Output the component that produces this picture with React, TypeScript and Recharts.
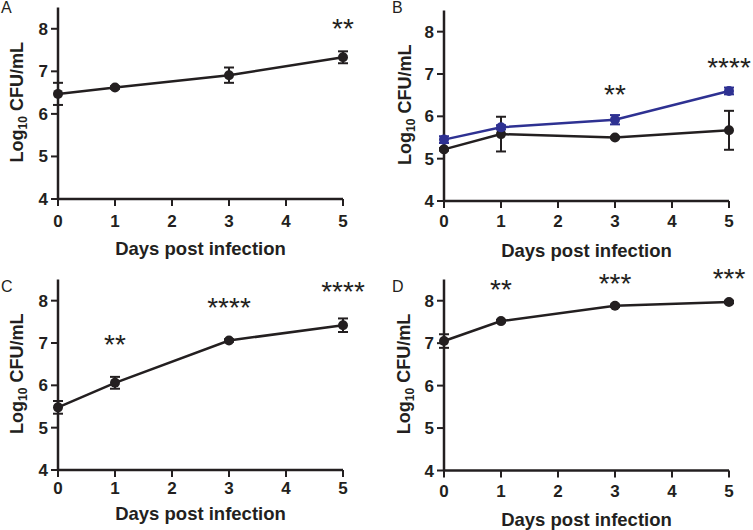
import React from "react";
import { LineChart, Line, XAxis, YAxis, ErrorBar, ReferenceDot } from "recharts";

const days = [0, 1, 3, 5];
const xTicks = [0, 1, 2, 3, 4, 5];
const yTicks = [4, 5, 6, 7, 8];

// panel A
const meanA = [6.47, 6.62, 6.91, 7.33];
const errA = [0.26, 0.03, 0.18, 0.14];
const starsA = [{ day: 5, at: 8.17, label: "**" }];

// panel B (black + blue)
const meanB1 = [5.22, 5.58, 5.5, 5.67];
const errB1 = [0.03, 0.41, 0.02, 0.46];
const meanB2 = [5.45, 5.74, 5.92, 6.6];
const errB2 = [0.08, 0.05, 0.11, 0.08];
const starsB = [
  { day: 3, at: 6.67, label: "**" },
  { day: 5, at: 7.31, label: "****" },
];

// panel C
const meanC = [5.48, 6.06, 7.06, 7.42];
const errC = [0.15, 0.14, 0.03, 0.16];
const starsC = [
  { day: 1, at: 7.13, label: "**" },
  { day: 3, at: 8.0, label: "****" },
  { day: 5, at: 8.37, label: "****" },
];

// panel D
const meanD = [7.05, 7.52, 7.88, 7.97];
const errD = [0.16, 0.03, 0.03, 0.03];
const starsD = [
  { day: 1, at: 8.42, label: "**" },
  { day: 3, at: 8.57, label: "***" },
  { day: 5, at: 8.68, label: "***" },
];

const INK = "#231f20";
const BLUE = "#2e3192";
const FONT = "'Liberation Sans', Arial, sans-serif";
const W = 376;
const H = 265;
const PAD = 20; // extra room above the plot so the stars are not clipped
const XAXIS_H = 40;
const STAR_FS = 28;

interface Series {
  mean: number[];
  err: number[];
  color: string;
}

interface PanelProps {
  letter: string;
  left: number;
  top: number;
  box: { left: number; top: number; right: number; bottom: number };
  series: Series[];
  stars: { day: number; at: number; label: string }[];
  tickGap: number;
  titleGap: number;
  yLabelX: number;
}

const Panel = (props: PanelProps) => {
  const { letter, left, top, box, series, stars, tickGap, titleGap, yLabelX } = props;
  const data = days.map((d, i) => {
    const row: any = { day: d };
    series.forEach((s, k) => {
      row["m" + k] = s.mean[i];
      row["e" + k] = s.err[i];
    });
    return row;
  });
  const tickStyle = { fill: INK, fontSize: 17, fontWeight: 700, fontFamily: FONT };
  return (
    <div style={{ position: "absolute", left, top: top - PAD, width: W, height: H + PAD }}>
      <LineChart
        width={W}
        height={H + PAD}
        data={data}
        margin={{
          top: box.top + PAD,
          right: W - box.right,
          left: 0,
          bottom: H - box.bottom - XAXIS_H,
        }}
      >
        <XAxis
          dataKey="day"
          type="number"
          domain={[0, 5]}
          ticks={xTicks}
          interval={0}
          height={XAXIS_H}
          tick={tickStyle}
          tickSize={7}
          tickMargin={tickGap}
          axisLine={{ stroke: INK, strokeWidth: 2.5 }}
          tickLine={{ stroke: INK, strokeWidth: 2 }}
          label={{
            content: (p: any) => {
              const vb = p.viewBox;
              return (
                <text
                  x={vb.x + vb.width / 2}
                  y={vb.y + titleGap}
                  textAnchor="middle"
                  fill={INK}
                  fontSize={18.5}
                  fontWeight={700}
                  fontFamily={FONT}
                >
                  Days post infection
                </text>
              );
            },
          }}
        />
        <YAxis
          type="number"
          domain={[4, 8.5]}
          ticks={yTicks}
          interval={0}
          width={box.left}
          tick={tickStyle}
          tickSize={7}
          tickMargin={3}
          axisLine={{ stroke: INK, strokeWidth: 2.5 }}
          tickLine={{ stroke: INK, strokeWidth: 2 }}
          label={{
            content: (p: any) => {
              const vb = p.viewBox;
              const cx = vb.x + yLabelX;
              const cy = vb.y + vb.height / 2 - 1;
              return (
                <text
                  x={cx}
                  y={cy}
                  transform={`rotate(-90, ${cx}, ${cy})`}
                  textAnchor="middle"
                  fill={INK}
                  fontSize={18}
                  fontWeight={700}
                  fontFamily={FONT}
                >
                  <tspan>Log</tspan>
                  <tspan fontSize={12} dy={4}>10</tspan>
                  <tspan dy={-4}> CFU/mL</tspan>
                </text>
              );
            },
          }}
        />
        {series.map((s, k) => (
          <Line
            key={k}
            dataKey={"m" + k}
            stroke={s.color}
            strokeWidth={2.5}
            dot={{ r: 5, fill: s.color, stroke: "none" }}
            activeDot={false}
            isAnimationActive={false}
          >
            <ErrorBar dataKey={"e" + k} width={5} stroke={s.color} strokeWidth={2} direction="y" />
          </Line>
        ))}
        {stars.map((s, i) => (
          <ReferenceDot
            key={i}
            x={s.day}
            y={s.at}
            r={0}
            ifOverflow="visible"
            shape={(p: any) => (
              <text
                x={p.cx}
                y={p.cy + 0.58 * STAR_FS}
                textAnchor="middle"
                fill={INK}
                fontSize={STAR_FS}
                fontFamily={FONT}
              >
                {s.label}
              </text>
            )}
          />
        ))}
      </LineChart>
      <div
        style={{
          position: "absolute",
          left: letter === "A" || letter === "C" ? 1 : 16,
          top: PAD + (letter === "A" || letter === "B" ? -1 : 13),
          fontFamily: FONT,
          fontSize: 16,
          lineHeight: "18px",
          color: INK,
        }}
      >
        {letter}
      </div>
    </div>
  );
};

export default function App() {
  return (
    <div style={{ position: "absolute", left: 0, top: 0, width: 753, height: 530, background: "#fff", overflow: "hidden" }}>
      <Panel
        letter="A"
        left={0}
        top={0}
        box={{ left: 58, top: 7.5, right: 343, bottom: 199 }}
        series={[{ mean: meanA, err: errA, color: INK }]}
        stars={starsA}
        tickGap={9}
        titleGap={56}
        yLabelX={23}
      />
      <Panel
        letter="B"
        left={376}
        top={0}
        box={{ left: 68, top: 10.5, right: 353, bottom: 201 }}
        series={[
          { mean: meanB1, err: errB1, color: INK },
          { mean: meanB2, err: errB2, color: BLUE },
        ]}
        stars={starsB}
        tickGap={7}
        titleGap={56}
        yLabelX={34.5}
      />
      <Panel
        letter="C"
        left={0}
        top={265}
        box={{ left: 58, top: 14.5, right: 343, bottom: 205 }}
        series={[{ mean: meanC, err: errC, color: INK }]}
        stars={starsC}
        tickGap={5}
        titleGap={50}
        yLabelX={22.5}
      />
      <Panel
        letter="D"
        left={376}
        top={265}
        box={{ left: 68, top: 14.5, right: 353, bottom: 205.5 }}
        series={[{ mean: meanD, err: errD, color: INK }]}
        stars={starsD}
        tickGap={7.5}
        titleGap={55}
        yLabelX={34}
      />
    </div>
  );
}
